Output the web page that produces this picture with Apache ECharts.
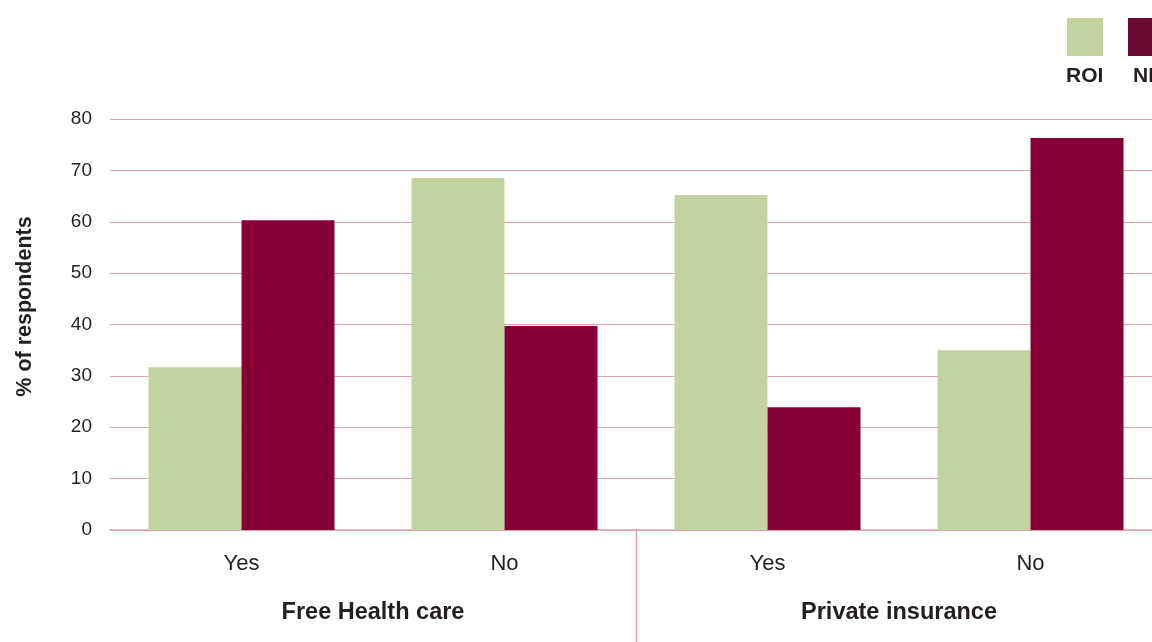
<!DOCTYPE html>
<html>
<head>
<meta charset="utf-8">
<script src="https://cdn.jsdelivr.net/npm/echarts@6/dist/echarts.min.js"></script>
<style>
  html, body { margin: 0; padding: 0; background: #ffffff; overflow: hidden; }
  /* the drawing runs slightly past the right edge of the window */
  #chart { width: 1162px; height: 642px; }
</style>
</head>
<body>
<div id="chart"></div>
<script>
// Answer categories, two per question group
const categories = ['Yes', 'No', 'Yes', 'No'];
const groups = ['Free Health care', 'Private insurance'];
const yTicks = [0, 10, 20, 30, 40, 50, 60, 70, 80];

// Share of respondents (%) by jurisdiction
const roiValues = [31.7, 68.5, 65.2, 35.0];
const niValues = [60.3, 39.7, 23.9, 76.3];

const seriesNames = ['ROI', 'NI'];
const barColors = ['#c3d3a0', '#870035'];
const keyColors = ['#c3d3a0', '#6b0a31'];

const FONT = '"Liberation Sans", Arial, Helvetica, sans-serif';
const PINK = '#d9a5af';
const TEXT = '#231f20';

const chart = echarts.init(document.getElementById('chart'), null, { renderer: 'canvas' });

const option = {
  backgroundColor: '#ffffff',
  animation: false,
  grid: { left: 110, top: 119, right: 0, height: 411, containLabel: false },
  xAxis: [
    {
      type: 'category',
      data: categories,
      position: 'bottom',
      axisLine: { show: true, lineStyle: { color: PINK, width: 1.5 } },
      axisTick: { show: false },
      axisLabel: { color: TEXT, fontFamily: FONT, fontSize: 22, margin: 23 }
    },
    {
      type: 'category',
      data: groups,
      position: 'bottom',
      gridIndex: 0,
      axisLine: { show: false },
      axisTick: { show: false },
      axisLabel: { color: TEXT, fontFamily: FONT, fontSize: 23.5, fontWeight: 'bold', margin: 71 }
    }
  ],
  yAxis: {
    type: 'value',
    min: yTicks[0],
    max: yTicks[yTicks.length - 1],
    interval: yTicks[1] - yTicks[0],
    name: '% of respondents',
    nameLocation: 'middle',
    nameGap: 74,
    nameRotate: 90,
    nameTextStyle: {
      color: TEXT, fontFamily: FONT, fontSize: 21.5, fontWeight: 'bold',
      padding: [0, 0, 0, 36]
    },
    axisLine: { show: false },
    axisTick: { show: false },
    axisLabel: { color: TEXT, fontFamily: FONT, fontSize: 19, margin: 18 },
    splitLine: { show: true, lineStyle: { color: PINK, width: 1.2 } }
  },
  series: [
    {
      name: seriesNames[0],
      type: 'bar',
      data: roiValues,
      barWidth: 93,
      barGap: '0%',
      itemStyle: { color: barColors[0] }
    },
    {
      name: seriesNames[1],
      type: 'bar',
      data: niValues,
      barWidth: 93,
      barGap: '0%',
      itemStyle: { color: barColors[1] }
    }
  ]
};

chart.setOption(option);

// Divider between the two question groups, below the category axis
const xLeft = chart.convertToPixel({ xAxisIndex: 0 }, 1);
const xRight = chart.convertToPixel({ xAxisIndex: 0 }, 2);
const yBase = chart.convertToPixel({ yAxisIndex: 0 }, 0);
const dividerX = Math.round((xLeft + xRight) / 2) + 0.5;

// Key: colour swatches with labels underneath
const swatchX = [1067, 1128];
const labelX = [1066, 1133];
const keyElements = [];
seriesNames.forEach(function (name, i) {
  keyElements.push({
    type: 'rect',
    shape: { x: swatchX[i], y: 18, width: 36, height: 38 },
    style: { fill: keyColors[i] }
  });
  keyElements.push({
    type: 'text',
    style: {
      x: labelX[i], y: 76, text: name,
      fill: TEXT, font: 'bold 21px ' + FONT,
      textAlign: 'left', textVerticalAlign: 'middle'
    }
  });
});

chart.setOption({
  graphic: [
    {
      type: 'line',
      shape: { x1: dividerX, y1: yBase, x2: dividerX, y2: 642 },
      style: { stroke: PINK, lineWidth: 1.5 }
    }
  ].concat(keyElements)
});
</script>
</body>
</html>
